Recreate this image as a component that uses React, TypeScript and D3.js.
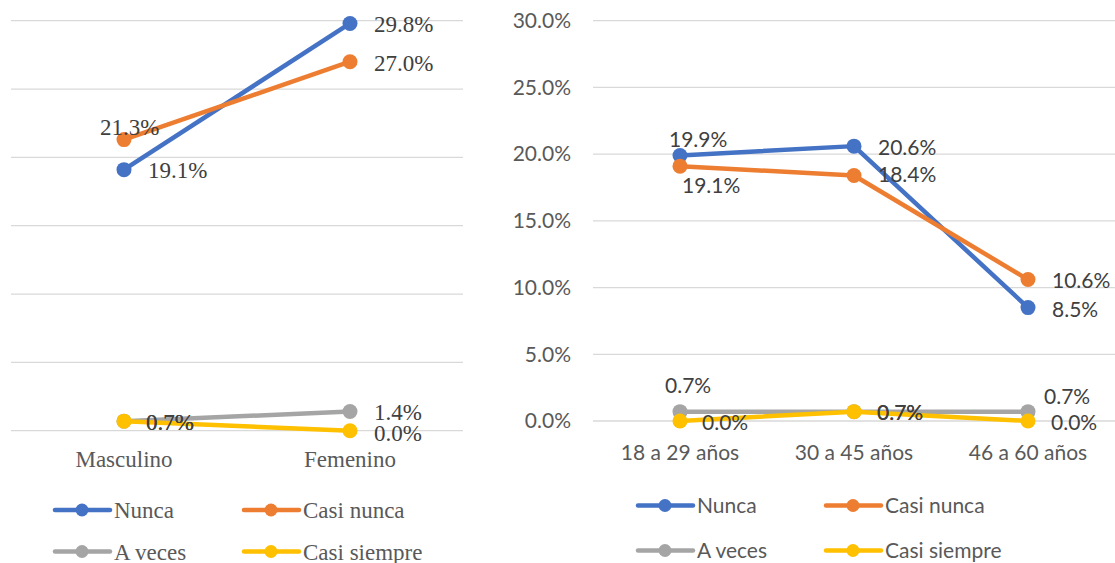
import * as d3 from "d3"

// ---- data ----
const seriesNames = ["Nunca", "Casi nunca", "A veces", "Casi siempre"]
const seriesColors = ["#4472C4", "#ED7D31", "#A5A5A5", "#FFC000"]

const sexCategories = ["Masculino", "Femenino"]
const sexValues = [
  [19.1, 29.8],
  [21.3, 27.0],
  [0.7, 1.4],
  [0.7, 0.0],
]

const ageCategories = ["18 a 29 años", "30 a 45 años", "46 a 60 años"]
const ageValues = [
  [19.9, 20.6, 8.5],
  [19.1, 18.4, 10.6],
  [0.7, 0.7, 0.7],
  [0.0, 0.7, 0.0],
]

const yTicks = [0, 5, 10, 15, 20, 25, 30]

// label offsets (dx, dy) from each point, per series
const sexLabelOffsets = [
  [[24, 8], [24, 9]],
  [[-24, -5], [24, 9]],
  [[22, 9], [24, 8]],
  [[22, 9], [24, 10]],
]
const ageLabelOffsets = [
  [[-11, -8], [24, 9], [24, 9]],
  [[2, 27], [24, 7], [24, 8]],
  [[-15, -19], [23, 8], [16, -8]],
  [[22, 9], [23, 8], [23, 9]],
]

const fmt = (v: number) => v.toFixed(1) + "%"

interface PanelProps {
  categories: string[]
  values: number[][]
  offsets: number[][][]
  x0: number
  x1: number
  yTop: number
  yBottom: number
  font: string
  fontSize: number
  showYAxis: boolean
  catY: number
  legend: { rows: number[]; cols: number[] }
  labelColor: string
  axisColor: string
}

function Panel(p: PanelProps) {
  const x = d3.scaleBand<string>().domain(p.categories).range([p.x0, p.x1]).padding(0)
  const cx = (c: string) => (x(c) as number) + x.bandwidth() / 2
  const y = d3.scaleLinear().domain([0, 30]).range([p.yBottom, p.yTop])
  const line = d3
    .line<number>()
    .x((_, i) => cx(p.categories[i]))
    .y((d) => y(d))

  return (
    <g fontFamily={p.font} fontSize={p.fontSize}>
      {yTicks.map((t) => (
        <line key={t} x1={p.x0} x2={p.x1} y1={y(t)} y2={y(t)} stroke="#d9d9d9" strokeWidth={1.3} />
      ))}
      {p.showYAxis &&
        yTicks.map((t) => (
          <text key={"t" + t} x={p.x0 - 22} y={y(t)} dy="0.35em" textAnchor="end" fill={p.axisColor}>
            {t.toFixed(1) + "%"}
          </text>
        ))}
      {p.categories.map((c) => (
        <text key={c} x={cx(c)} y={p.catY} textAnchor="middle" fill={p.axisColor}>
          {c}
        </text>
      ))}
      {p.values.map((vals, si) => (
        <g key={si}>
          <path d={line(vals) as string} fill="none" stroke={seriesColors[si]} strokeWidth={4.5} strokeLinejoin="round" />
          {vals.map((v, i) => (
            <circle key={i} cx={cx(p.categories[i])} cy={y(v)} r={7.5} fill={seriesColors[si]} />
          ))}
        </g>
      ))}
      {p.values.map((vals, si) =>
        vals.map((v, i) => (
          <text
            key={si + "-" + i}
            x={cx(p.categories[i]) + p.offsets[si][i][0]}
            y={y(v) + p.offsets[si][i][1]}
            fill={p.labelColor}
          >
            {fmt(v)}
          </text>
        )),
      )}
      {seriesNames.map((name, si) => {
        const lx = p.legend.cols[si % 2]
        const ly = p.legend.rows[Math.floor(si / 2)]
        return (
          <g key={name}>
            <line x1={lx} x2={lx + 55} y1={ly} y2={ly} stroke={seriesColors[si]} strokeWidth={4.5} strokeLinecap="round" />
            <circle cx={lx + 27} cy={ly} r={6.5} fill={seriesColors[si]} />
            <text x={lx + 59} y={ly} dy="0.35em" fill={p.axisColor}>
              {name}
            </text>
          </g>
        )
      })}
    </g>
  )
}

export default function App() {
  return (
    <div style={{ position: "absolute", left: 0, top: 0 }}>
      <svg width={1115} height={563} style={{ display: "block", background: "#fff" }}>
        <Panel
          categories={sexCategories}
          values={sexValues}
          offsets={sexLabelOffsets}
          x0={11}
          x1={463}
          yTop={20.7}
          yBottom={430.7}
          font="'Liberation Serif', 'Times New Roman', serif"
          fontSize={23}
          showYAxis={false}
          catY={467}
          legend={{ rows: [510, 551.5], cols: [55, 244] }}
          labelColor="#404040"
          axisColor="#595959"
        />
        <Panel
          categories={ageCategories}
          values={ageValues}
          offsets={ageLabelOffsets}
          x0={593}
          x1={1115}
          yTop={20.7}
          yBottom={421}
          font="Lato, 'Liberation Sans', sans-serif"
          fontSize={21}
          showYAxis={true}
          catY={460}
          legend={{ rows: [505.5, 550.5], cols: [638, 826] }}
          labelColor="#404040"
          axisColor="#595959"
        />
      </svg>
    </div>
  )
}
